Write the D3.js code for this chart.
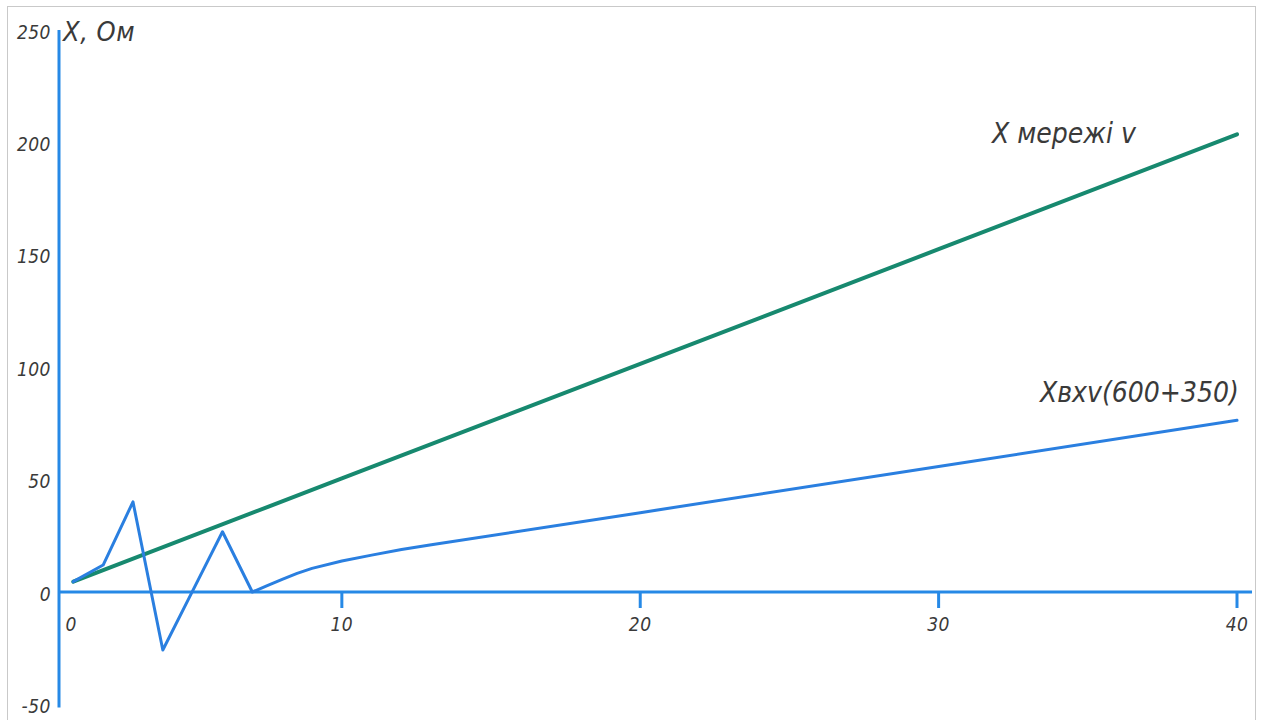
<!DOCTYPE html>
<html>
<head>
<meta charset="utf-8">
<script src="https://cdn.jsdelivr.net/npm/d3@7/dist/d3.min.js"></script>
<style>
  html, body { margin: 0; padding: 0; background: #fff; }
  svg { display: block; }
  .lbl { font-family: "DejaVu Sans Condensed", "DejaVu Sans", sans-serif; font-style: italic; fill: #3a3a3a; }
</style>
</head>
<body>
<svg id="chart" width="1261" height="720"></svg>
<script>
// Network reactance X (Ohm) against index v
const xNet = [1, 10, 20, 30, 40];
const yNet = [4.6, 50.5, 101.5, 152.5, 203.6];

// Input reactance Xвх v (600+350)
const xIn = [1, 2, 3, 4, 5, 6, 7, 7.5, 8, 8.5, 9, 10, 11, 12, 13, 20, 30, 40];
const yIn = [4.6, 12, 40.1, -25.8, 0.5, 26.8, 0, 2.8, 5.6, 8.3, 10.5, 13.8, 16.4, 18.9, 21, 35.3, 55.8, 76.4];

const xTicks = [0, 10, 20, 30, 40];
const xTickLabels = ["0", "10", "20", "30", "40"];
const yTicks = [250, 200, 150, 100, 50, 0, -50];
const yTickLabels = ["250", "200", "150", "100", "50", "0", "-50"];

const axisTitle = "X, Ом";
const netLabel = "X мережі v";
const inLabel = "Xвхv(600+350)";

const axisColor = "#2689e6";
const inColor = "#2a7fe0";
const netColor = "#17896f";

const svg = d3.select("#chart");

// outer frame
svg.append("rect")
  .attr("x", 7.5).attr("y", 6.5)
  .attr("width", 1248).attr("height", 730)
  .attr("fill", "none").attr("stroke", "#c9c9c9").attr("stroke-width", 1);

const x = d3.scaleLinear().domain([1, 40]).range([73.3, 1237]);
const y = d3.scaleLinear().domain([0, 250]).range([592, 30]);
const axisX0 = 59;

// y axis line and labels
svg.append("line")
  .attr("x1", axisX0).attr("x2", axisX0)
  .attr("y1", y(250)).attr("y2", y(-50) + 3)
  .attr("stroke", axisColor).attr("stroke-width", 3);

svg.append("g").selectAll("text").data(yTicks).join("text")
  .attr("class", "lbl")
  .attr("x", 51)
  .attr("y", d => y(d) + 2)
  .attr("dy", "0.35em")
  .attr("text-anchor", "end")
  .attr("font-size", 19)
  .attr("letter-spacing", 0.5)
  .text((d, i) => yTickLabels[i]);

// x axis line, ticks and labels
svg.append("line")
  .attr("x1", axisX0).attr("x2", 1252)
  .attr("y1", y(0)).attr("y2", y(0))
  .attr("stroke", axisColor).attr("stroke-width", 3);

const tickPos = v => x(Math.max(v, x.domain()[0]));

svg.append("g").selectAll("line").data(xTicks.filter(v => v > 0)).join("line")
  .attr("x1", d => tickPos(d)).attr("x2", d => tickPos(d))
  .attr("y1", y(0)).attr("y2", y(0) + 16)
  .attr("stroke", axisColor).attr("stroke-width", 3);

svg.append("g").selectAll("text").data(xTicks).join("text")
  .attr("class", "lbl")
  .attr("x", d => tickPos(d) - (d === 0 ? 2 : 0))
  .attr("y", y(0) + 32)
  .attr("dy", "0.35em")
  .attr("text-anchor", "middle")
  .attr("font-size", 19)
  .attr("letter-spacing", 0.5)
  .text((d, i) => xTickLabels[i]);

// axis title
svg.append("text").attr("class", "lbl")
  .attr("x", 63).attr("y", 32).attr("dy", "0.35em")
  .attr("font-size", 27)
  .attr("letter-spacing", 0.5)
  .text(axisTitle);

const line = d3.line().x(d => x(d[0])).y(d => y(d[1]));

// network reactance
svg.append("path")
  .datum(d3.zip(xNet, yNet))
  .attr("d", line)
  .attr("fill", "none").attr("stroke", netColor)
  .attr("stroke-width", 4).attr("stroke-linecap", "round");

// input reactance
svg.append("path")
  .datum(d3.zip(xIn, yIn))
  .attr("d", line)
  .attr("fill", "none").attr("stroke", inColor)
  .attr("stroke-width", 3).attr("stroke-linejoin", "round").attr("stroke-linecap", "round");

// series labels
svg.append("text").attr("class", "lbl")
  .attr("x", 992).attr("y", 133).attr("dy", "0.35em")
  .attr("font-size", 28)
  .text(netLabel);

svg.append("text").attr("class", "lbl")
  .attr("x", 1040).attr("y", 392).attr("dy", "0.35em")
  .attr("font-size", 28)
  .text(inLabel);
</script>
</body>
</html>
